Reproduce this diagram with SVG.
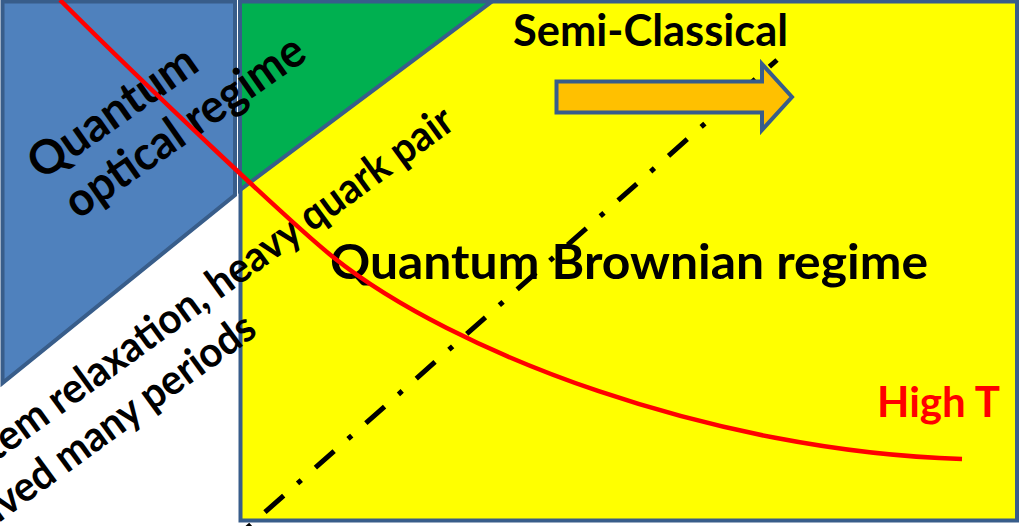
<svg xmlns="http://www.w3.org/2000/svg" width="1019" height="526" viewBox="0 0 1019 526">
<style>
.edge{stroke:#385d8a;stroke-width:4;stroke-linejoin:miter}
.t{font-family:Lato,"Open Sans","Liberation Sans",sans-serif;font-weight:bold;fill:#000}
</style>
<rect width="1019" height="526" fill="#fff"/>
<g id="brownian">
<rect class="edge" x="240.5" y="1.5" width="776.5" height="519" fill="#ffff00"/>
</g>
<g id="semiquantum">
<polygon class="edge" points="240,1.5 492,1.5 240,190" fill="#00b050"/>
</g>
<g id="optical">
<polygon class="edge" points="2.5,1.5 235,1.5 235,195 2.5,383" fill="#4f81bd"/>
</g>
<g id="labels">
<text class="t" font-size="47" transform="translate(41.5,181) rotate(-35)" textLength="195" lengthAdjust="spacingAndGlyphs">Quantum</text>
<text class="t" font-size="47" transform="translate(78,220) rotate(-35)" textLength="282" lengthAdjust="spacingAndGlyphs">optical regime</text>
<text class="t" font-size="42" text-anchor="end" transform="translate(457,127) rotate(-36)" textLength="570" lengthAdjust="spacingAndGlyphs">tem relaxation, heavy quark pair</text>
<text class="t" font-size="42" text-anchor="end" transform="translate(259,334) rotate(-36)" textLength="322" lengthAdjust="spacingAndGlyphs">ived many periods</text>
<text class="t" font-size="48" x="330" y="279" textLength="598" lengthAdjust="spacingAndGlyphs">Quantum Brownian regime</text>
<text class="t" font-size="44" x="513" y="46" textLength="275" lengthAdjust="spacingAndGlyphs">Semi-Classical</text>
<text class="t" font-size="42" x="877" y="417" textLength="123" lengthAdjust="spacingAndGlyphs" style="fill:#ff0000">High T</text>
</g>
<g id="connectors">
<path d="M60,0 C150,90 293,225 333,257 C453,353 712,451.5 962,459" fill="none" stroke="#ff0000" stroke-width="4.5"/>
<line x1="214.5" y1="556.7" x2="777" y2="60" stroke="#000" stroke-width="5" stroke-dasharray="25 18.5 5 18.8"/>
</g>
<g id="arrow">
<polygon class="edge" stroke-width="5" points="556.5,81.5 762,81.5 762,64 792,97 762,130 762,112.5 556.5,112.5" fill="#ffc000"/>
</g>
</svg>
